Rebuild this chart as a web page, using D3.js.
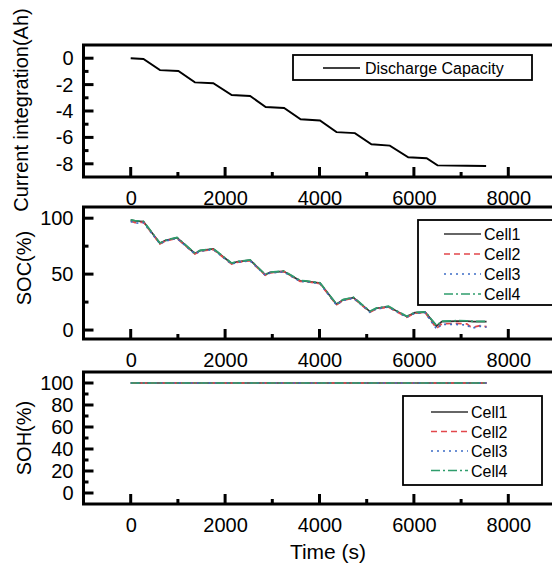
<!DOCTYPE html>
<html>
<head>
<meta charset="utf-8">
<script src="https://cdn.jsdelivr.net/npm/d3@7"></script>
<style>
  body { margin: 0; background: #fff; overflow: hidden; }
  svg { display: block; }
  svg text { font-family: "Liberation Sans", Arial, sans-serif; fill: #000; }
</style>
</head>
<body>
<div id="chart"></div>
<script>
// Panel 1: current integration (Ah)
const capTime = [0, 270, 620, 1010, 1360, 1750, 2140, 2530, 2860, 3250, 3600, 4010, 4360, 4750, 5100, 5490, 5880, 6270, 6500, 7120, 7530]
const capValue = [0, -0.06, -0.9, -0.97, -1.83, -1.9, -2.79, -2.86, -3.7, -3.77, -4.63, -4.72, -5.6, -5.68, -6.52, -6.62, -7.5, -7.58, -8.12, -8.15, -8.17]

// Panel 2: SOC (%) per cell
const socTime = [0, 90, 270, 620, 730, 980, 1360, 1470, 1750, 2140, 2250, 2530, 2850, 2950, 3240, 3590, 3700, 4010, 4360, 4500, 4720, 5070, 5210, 5460, 5850, 6020, 6240, 6480, 6590, 6900, 7120, 7200, 7260, 7400, 7540]
const socCell1 = [98.5, 97.5, 97, 77.5, 80, 82.5, 68.5, 71, 72.5, 59.5, 61, 62.5, 49.5, 51.5, 52.5, 44, 43.8, 42, 23, 27, 29, 16.5, 19.5, 21, 12, 15.5, 16, 3.5, 7.5, 8, 8, 7.8, 7.5, 7.5, 7.5]
const socCell2 = [97.5, 96, 96.5, 77, 79.5, 82, 68, 70.5, 72, 59, 60.5, 62, 49, 51, 52.5, 43.5, 43.5, 41.5, 22.5, 26.5, 28.5, 16, 19, 20.5, 11.5, 15, 15.5, 1.5, 5.5, 6, 5.5, 3, 2.5, 4, 3]
const socCell3 = [97, 95.5, 96, 77, 79.5, 82, 68, 70.5, 72, 59, 60.5, 62, 49, 51, 52, 43.5, 43.3, 41.5, 22.5, 26.5, 28.5, 16, 19, 20.5, 11.5, 15, 15.5, 1, 5, 5, 4.5, 2.5, 2, 3.5, 2.5]
const socCell4 = [98.5, 97.8, 97.2, 77.8, 80.2, 82.8, 68.8, 71.2, 72.8, 59.8, 61.2, 62.8, 49.8, 51.8, 52.8, 44.3, 44, 42.3, 23.3, 27.2, 29.3, 16.8, 19.8, 21.3, 12.3, 15.8, 16.3, 4, 8, 8.4, 8.3, 8, 7.8, 7.8, 7.8]

// Panel 3: SOH (%) per cell
const sohTime = [0, 7540]
const sohCell1 = [100, 100]
const sohCell2 = [100, 100]
const sohCell3 = [100, 100]
const sohCell4 = [100, 100]

const cellNames = ['Cell1', 'Cell2', 'Cell3', 'Cell4']
const xMajorTicks = [0, 2000, 4000, 6000, 8000]
const xMinorTicks = [1000, 3000, 5000, 7000]

const width = 552, height = 568
const plotLeft = 83.5, plotWidth = 472, plotHeight = 132

// line styles for the four cells
const cellStyle = [
    {stroke: '#333333', dash: null},
    {stroke: '#e2474b', dash: '6,4'},
    {stroke: '#3d6cc6', dash: '2,4'},
    {stroke: '#2f9d6c', dash: '9,3,2,3'}
]

const svg = d3.select('#chart').append('svg')
    .attr('width', width)
    .attr('height', height)

const x = d3.scaleLinear().domain([-1000, 9000]).range([plotLeft, plotLeft + plotWidth])

// plain hyphen for negatives, like the original plot
const fmt = d => String(d)

// inward tick marks, drawn from the scales
function tickMarks (g, scale, values, len, horizontal) {
    g.selectAll(null)
        .data(values)
        .enter().append('line')
        .attr('x1', d => horizontal ? scale(d) : plotLeft)
        .attr('x2', d => horizontal ? scale(d) : plotLeft + len)
        .attr('y1', d => horizontal ? plotHeight : scale(d))
        .attr('y2', d => horizontal ? plotHeight - len : scale(d))
        .attr('stroke', '#000')
        .attr('stroke-width', 3)
}

function drawPanel (top, yDomain, yMajor, yMinor, title, titleX, titleY) {
    const g = svg.append('g').attr('transform', 'translate(0,' + top + ')')
    const y = d3.scaleLinear().domain(yDomain).range([plotHeight, 0])

    // labels from d3 axes
    g.append('g')
        .attr('transform', 'translate(0,' + plotHeight + ')')
        .call(d3.axisBottom(x).tickValues(xMajorTicks).tickSize(0).tickPadding(14).tickFormat(fmt))
    g.append('g')
        .attr('transform', 'translate(' + plotLeft + ',0)')
        .call(d3.axisLeft(y).tickValues(yMajor).tickSize(0).tickPadding(10).tickFormat(fmt))

    g.selectAll('.domain').remove()
    g.selectAll('.tick text').style('font-size', '20px').attr('fill', '#000')

    tickMarks(g, x, xMinorTicks, 5, true)
    tickMarks(g, x, xMajorTicks, 10, true)
    tickMarks(g, y, yMinor, 5, false)
    tickMarks(g, y, yMajor, 10, false)

    // frame
    g.append('rect')
        .attr('x', plotLeft)
        .attr('y', 0)
        .attr('width', plotWidth)
        .attr('height', plotHeight)
        .attr('fill', 'none')
        .attr('stroke', '#000')
        .attr('stroke-width', 3)

    // y title
    svg.append('text')
        .attr('transform', 'translate(' + titleX + ',' + titleY + ') rotate(-90)')
        .attr('text-anchor', 'middle')
        .style('font-size', '20px')
        .text(title)

    return {g: g, y: y}
}

function legendBox (g, bx, by, bw, bh) {
    g.append('rect')
        .attr('x', bx).attr('y', by)
        .attr('width', bw).attr('height', bh)
        .attr('fill', '#fff')
        .attr('stroke', '#000')
        .attr('stroke-width', 1.8)
}

// 1. Current integration
const p1 = drawPanel(45, [-9, 1], [0, -2, -4, -6, -8], [-1, -3, -5, -7], 'Current integration(Ah)', 28, 110)
const capLine = d3.line().x((d, i) => x(capTime[i])).y(d => p1.y(d))
p1.g.append('path')
    .datum(capValue)
    .attr('d', capLine)
    .attr('fill', 'none')
    .attr('stroke', '#000')
    .attr('stroke-width', 1.9)

legendBox(p1.g, 293, 10, 239, 25)
p1.g.append('line')
    .attr('x1', 323).attr('x2', 360).attr('y1', 23).attr('y2', 23)
    .attr('stroke', '#000').attr('stroke-width', 1.7)
p1.g.append('text')
    .attr('x', 365).attr('y', 29)
    .style('font-size', '16px')
    .text('Discharge Capacity')

// 2. SOC
const p2 = drawPanel(207, [-8, 110], [0, 50, 100], [25, 75], 'SOC(%)', 31, 268)
const socSeries = [socCell1, socCell2, socCell3, socCell4]
const socLine = d3.line().x((d, i) => x(socTime[i])).y(d => p2.y(d))
socSeries.forEach((s, k) => {
    p2.g.append('path')
        .datum(s)
        .attr('d', socLine)
        .attr('fill', 'none')
        .attr('stroke', cellStyle[k].stroke)
        .attr('stroke-width', 1.7)
        .attr('stroke-dasharray', cellStyle[k].dash)
})

function cellLegend (g, bx, by, bw, bh, lx1, lx2, ly0, step) {
    legendBox(g, bx, by, bw, bh)
    cellNames.forEach((name, k) => {
        const ly = ly0 + k * step
        g.append('line')
            .attr('x1', lx1).attr('x2', lx2).attr('y1', ly).attr('y2', ly)
            .attr('stroke', cellStyle[k].stroke)
            .attr('stroke-width', 1.7)
            .attr('stroke-dasharray', cellStyle[k].dash)
        g.append('text')
            .attr('x', lx2 + 3).attr('y', ly + 6)
            .style('font-size', '16px')
            .text(name)
    })
}
cellLegend(p2.g, 418, 13, 150, 85, 444, 481, 27, 20)

// 3. SOH
const p3 = drawPanel(372, [-10, 110], [0, 20, 40, 60, 80, 100], [10, 30, 50, 70, 90], 'SOH(%)', 31, 438)
const sohSeries = [sohCell1, sohCell2, sohCell3, sohCell4]
const sohLine = d3.line().x((d, i) => x(sohTime[i])).y(d => p3.y(d))
sohSeries.forEach((s, k) => {
    p3.g.append('path')
        .datum(s)
        .attr('d', sohLine)
        .attr('fill', 'none')
        .attr('stroke', cellStyle[k].stroke)
        .attr('stroke-width', 1.7)
        .attr('stroke-dasharray', cellStyle[k].dash)
})
cellLegend(p3.g, 403, 24, 139, 89, 431, 468, 40, 19.5)

// x title
svg.append('text')
    .attr('x', 328)
    .attr('y', 559)
    .attr('text-anchor', 'middle')
    .style('font-size', '21px')
    .text('Time (s)')
</script>
</body>
</html>
